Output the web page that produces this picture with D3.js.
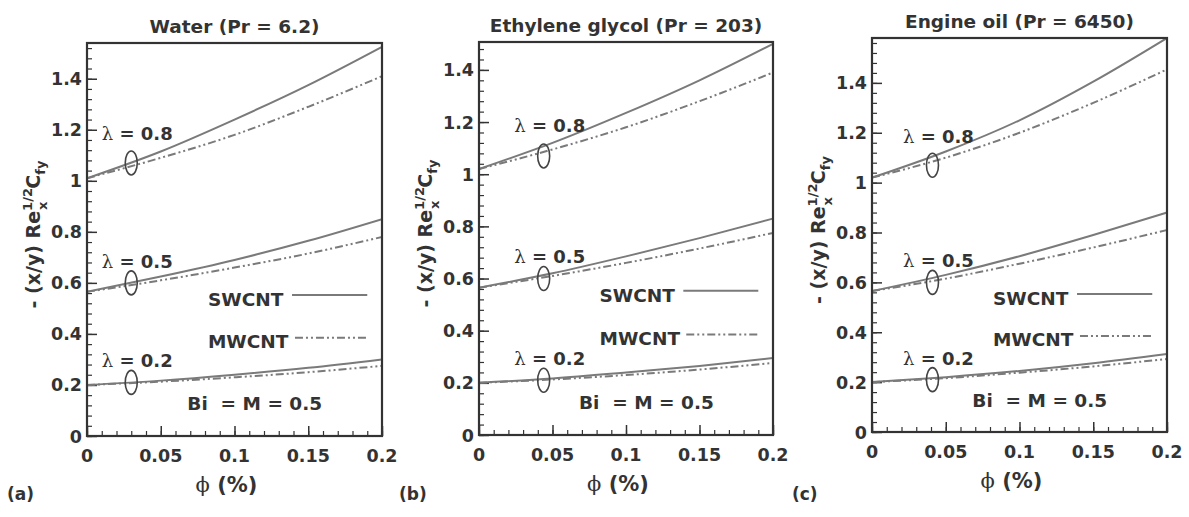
<!DOCTYPE html>
<html lang="en">
<head>
<meta charset="UTF-8">
<title>Skin friction vs phi</title>
<script src="https://cdn.jsdelivr.net/npm/d3@7"></script>
<style>
  body { margin: 0; background: #fff; }
  svg { display: block; }
  text { font-family: "DejaVu Sans", sans-serif; font-weight: bold; fill: #333; }
</style>
</head>
<body>
<svg width="1189" height="517"></svg>
<script>
    // phi values (%) along x
    const phi = [0, 0.05, 0.1, 0.15, 0.2];
    const lambdas = [0.8, 0.5, 0.2];
    const titles = ["Water (Pr = 6.2)", "Ethylene glycol (Pr = 203)", "Engine oil (Pr = 6450)"];
    const tags = ["(a)", "(b)", "(c)"];
    const yMax = [1.54, 1.507, 1.58];
    const yTicks = [0, 0.2, 0.4, 0.6, 0.8, 1, 1.2, 1.4];
    const xTicks = [0, 0.05, 0.1, 0.15, 0.2];

    // SWCNT / MWCNT curves, one row per lambda (0.8, 0.5, 0.2)
    const swWater = [[1.01, 1.115, 1.24, 1.375, 1.525], [0.565, 0.625, 0.69, 0.765, 0.85], [0.20, 0.217, 0.24, 0.267, 0.30]];
    const mwWater = [[1.01, 1.09, 1.18, 1.29, 1.41], [0.565, 0.61, 0.66, 0.715, 0.78], [0.20, 0.213, 0.23, 0.25, 0.275]];
    const swGlycol = [[1.02, 1.12, 1.235, 1.36, 1.50], [0.565, 0.62, 0.685, 0.755, 0.83], [0.20, 0.217, 0.24, 0.265, 0.295]];
    const mwGlycol = [[1.02, 1.095, 1.18, 1.28, 1.39], [0.565, 0.61, 0.66, 0.715, 0.775], [0.20, 0.213, 0.23, 0.251, 0.276]];
    const swOil = [[1.02, 1.125, 1.25, 1.405, 1.58], [0.565, 0.63, 0.705, 0.79, 0.88], [0.20, 0.22, 0.245, 0.276, 0.313]];
    const mwOil = [[1.02, 1.10, 1.20, 1.32, 1.454], [0.565, 0.615, 0.675, 0.74, 0.81], [0.20, 0.216, 0.238, 0.263, 0.293]];

    // where the ellipse markers sit (x in phi, y per lambda)
    const ringX = [0.03, 0.044, 0.041];
    const ringY = [1.07, 0.60, 0.21];
    const labelY = [1.16, 0.66, 0.27];

    const boxes = [
        {left: 87, right: 382, top: 43, bottom: 436, ylab: 40},
        {left: 479, right: 773, top: 42, bottom: 435, ylab: 432},
        {left: 872, right: 1167, top: 38, bottom: 432, ylab: 825}
    ];
    const sw = [swWater, swGlycol, swOil];
    const mw = [mwWater, mwGlycol, mwOil];

    const svg = d3.select("svg");
    const lineCol = "#7a7a7a", ink = "#333";
    const dashMW = "8,3,2,3,2,3";

    boxes.forEach((b, i) => {
        const x = d3.scaleLinear().domain([0, 0.2]).range([b.left, b.right]);
        const y = d3.scaleLinear().domain([0, yMax[i]]).range([b.bottom, b.top]);
        const g = svg.append("g");

        g.append("clipPath").attr("id", "clip" + i)
            .append("rect").attr("x", b.left).attr("y", b.top)
            .attr("width", b.right - b.left).attr("height", b.bottom - b.top);

        // minor + major ticks, inward
        const yAxis = d3.axisRight(y).tickValues(d3.range(0, yMax[i], 0.04)).tickSize(5).tickFormat("");
        g.append("g").attr("transform", `translate(${b.left},0)`).call(yAxis)
            .call(s => s.select(".domain").remove())
            .selectAll("line").attr("stroke", ink).attr("stroke-width", 1.2);
        g.append("g").attr("transform", `translate(${b.left},0)`)
            .call(d3.axisRight(y).tickValues(yTicks).tickSize(10).tickFormat(""))
            .call(s => s.select(".domain").remove())
            .selectAll("line").attr("stroke", ink).attr("stroke-width", 1.5);
        g.append("g").attr("transform", `translate(0,${b.bottom})`)
            .call(d3.axisTop(x).tickValues(d3.range(0, 0.2001, 0.01)).tickSize(5).tickFormat(""))
            .call(s => s.select(".domain").remove())
            .selectAll("line").attr("stroke", ink).attr("stroke-width", 1.2);
        g.append("g").attr("transform", `translate(0,${b.bottom})`)
            .call(d3.axisTop(x).tickValues(xTicks).tickSize(10).tickFormat(""))
            .call(s => s.select(".domain").remove())
            .selectAll("line").attr("stroke", ink).attr("stroke-width", 1.5);

        // tick labels
        g.selectAll(".yl").data(yTicks).join("text")
            .attr("x", b.left - 5).attr("y", d => y(d) + 6.5)
            .attr("text-anchor", "end").attr("font-size", 17.5)
            .text(d => d3.format("~g")(d));
        g.selectAll(".xl").data(xTicks).join("text")
            .attr("x", d => x(d)).attr("y", b.bottom + 26)
            .attr("text-anchor", "middle").attr("font-size", 17.5)
            .text(d => d3.format("~g")(d));

        // curves
        const line = d3.line().x((d, k) => x(phi[k])).y(d => y(d)).curve(d3.curveMonotoneX);
        const curves = g.append("g").attr("clip-path", `url(#clip${i})`).attr("fill", "none");
        curves.selectAll(".sw").data(sw[i]).join("path")
            .attr("d", line).attr("stroke", lineCol).attr("stroke-width", 2);
        curves.selectAll(".mw").data(mw[i]).join("path")
            .attr("d", line).attr("stroke", lineCol).attr("stroke-width", 2)
            .attr("stroke-dasharray", dashMW);

        // frame
        g.append("rect").attr("x", b.left).attr("y", b.top)
            .attr("width", b.right - b.left).attr("height", b.bottom - b.top)
            .attr("fill", "none").attr("stroke", ink).attr("stroke-width", 2.2);

        // ellipse markers and lambda labels
        g.selectAll("ellipse").data(ringY).join("ellipse")
            .attr("cx", x(ringX[i])).attr("cy", d => y(d))
            .attr("rx", 6).attr("ry", 12)
            .attr("fill", "none").attr("stroke", "#444").attr("stroke-width", 1.6);
        const lt = g.selectAll(".lam").data(lambdas).join("text")
            .attr("x", x(ringX[i] - 0.02)).attr("y", (d, k) => y(labelY[k]))
            .attr("font-size", 18);
        lt.append("tspan").style("font-family", "'DejaVu Serif', serif").style("font-weight", "normal").text("λ");
        lt.append("tspan").text(d => " = " + d);

        // legend
        g.append("text").attr("x", x(0.082)).attr("y", y(0.51)).attr("font-size", 18.5).text("SWCNT");
        g.append("line").attr("x1", x(0.139)).attr("x2", x(0.19))
            .attr("y1", y(0.553)).attr("y2", y(0.553))
            .attr("stroke", lineCol).attr("stroke-width", 2);
        g.append("text").attr("x", x(0.082)).attr("y", y(0.345)).attr("font-size", 18.5).text("MWCNT");
        g.append("line").attr("x1", x(0.141)).attr("x2", x(0.19))
            .attr("y1", y(0.385)).attr("y2", y(0.385))
            .attr("stroke", lineCol).attr("stroke-width", 2).attr("stroke-dasharray", dashMW);
        g.append("text").attr("x", x(0.068)).attr("y", y(0.1)).attr("font-size", 18.5)
            .style("white-space", "pre").text("Bi  = M = 0.5");

        // titles and axis labels
        g.append("text").attr("x", (b.left + b.right) / 2).attr("y", b.top - 10)
            .attr("text-anchor", "middle").attr("font-size", 18.5).text(titles[i]);
        g.append("text").attr("x", (b.left + b.right) / 2 - 8).attr("y", b.bottom + 56)
            .attr("text-anchor", "middle").attr("font-size", 21)
            .call(t => {
                t.append("tspan").style("font-family", "'DejaVu Serif', serif").style("font-weight", "normal").text("ϕ");
                t.append("tspan").text(" (%)");
            });
        g.append("text").attr("x", b.left - 80).attr("y", 500).attr("font-size", 17).text(tags[i]);

        const yl = g.append("text")
            .attr("transform", `translate(${b.ylab},${(b.top + b.bottom) / 2 - 5}) rotate(-90)`)
            .attr("text-anchor", "middle").attr("font-size", 19);
        yl.append("tspan").text("- (x/y) Re");
        yl.append("tspan").attr("font-size", 13).attr("dy", -8).text("1/2");
        yl.append("tspan").attr("font-size", 13).attr("dx", -22).attr("dy", 15).text("x");
        yl.append("tspan").attr("dx", 13).attr("dy", -7).text("C");
        yl.append("tspan").attr("font-size", 13).attr("dy", 5).text("fy");
    });
</script>
</body>
</html>
